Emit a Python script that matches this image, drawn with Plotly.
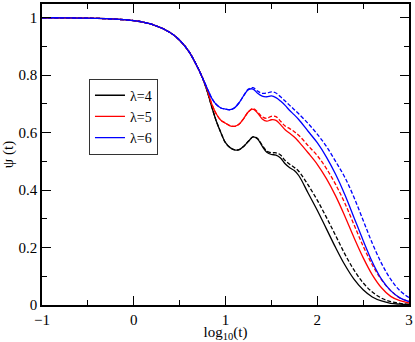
import plotly.graph_objects as go

# log10(t) grid shared by every curve
x = [-1, -0.8, -0.6, -0.4, -0.2, 0, 0.2, 0.4, 0.5, 0.6, 0.7, 0.75,
     0.8, 0.85, 0.9, 0.95, 1.0, 1.05, 1.1, 1.15, 1.2, 1.25, 1.3,
     1.35, 1.4, 1.45, 1.5, 1.55, 1.6, 1.65, 1.7, 1.75, 1.8,
     1.9, 2.0, 2.1, 2.2, 2.3, 2.4, 2.5, 2.6, 2.7, 2.8, 2.9, 3.0]

# early-time part, identical for all curves
head = [1.0, 1.0, 0.999, 0.998, 0.995, 0.99, 0.977, 0.948, 0.922, 0.883, 0.825, 0.79]

psi4 = head + [0.745, 0.69, 0.64, 0.60, 0.565, 0.548, 0.54, 0.541, 0.553, 0.57, 0.585,
               0.578, 0.553, 0.532, 0.524, 0.522, 0.512, 0.492, 0.478, 0.468, 0.45,
               0.39, 0.33, 0.265, 0.20, 0.14, 0.09, 0.053, 0.028, 0.014, 0.006, 0.003, 0.001]
psi4_d = head + [0.745, 0.69, 0.64, 0.60, 0.565, 0.548, 0.54, 0.541, 0.553, 0.57, 0.585,
                 0.58, 0.556, 0.536, 0.53, 0.53, 0.522, 0.503, 0.49, 0.479, 0.465,
                 0.418, 0.365, 0.305, 0.242, 0.178, 0.122, 0.077, 0.045, 0.024, 0.012, 0.006, 0.003]

psi5 = head + [0.75, 0.70, 0.665, 0.643, 0.633, 0.624, 0.622, 0.63, 0.65, 0.673, 0.682,
               0.668, 0.648, 0.64, 0.645, 0.643, 0.628, 0.61, 0.598, 0.585, 0.568,
               0.53, 0.49, 0.44, 0.38, 0.31, 0.235, 0.165, 0.105, 0.06, 0.03, 0.015, 0.007]
psi5_d = head + [0.75, 0.70, 0.665, 0.643, 0.633, 0.624, 0.622, 0.63, 0.65, 0.673, 0.684,
                 0.672, 0.655, 0.65, 0.657, 0.656, 0.64, 0.623, 0.614, 0.603, 0.59,
                 0.555, 0.52, 0.475, 0.42, 0.355, 0.28, 0.205, 0.14, 0.088, 0.05, 0.025, 0.012]

psi6 = head + [0.755, 0.72, 0.698, 0.686, 0.682, 0.68, 0.687, 0.705, 0.73, 0.75, 0.752,
               0.737, 0.727, 0.725, 0.728, 0.722, 0.71, 0.695, 0.677, 0.662, 0.645,
               0.605, 0.565, 0.515, 0.455, 0.385, 0.305, 0.225, 0.15, 0.09, 0.05, 0.025, 0.012]
psi6_d = head + [0.755, 0.72, 0.698, 0.686, 0.682, 0.68, 0.687, 0.705, 0.73, 0.752, 0.757,
                 0.745, 0.737, 0.738, 0.742, 0.738, 0.725, 0.71, 0.695, 0.68, 0.665,
                 0.632, 0.595, 0.552, 0.50, 0.445, 0.375, 0.295, 0.215, 0.145, 0.09, 0.05, 0.026]

x_ticks = [-1, 0, 1, 2, 3]
y_ticks = [0, 0.2, 0.4, 0.6, 0.8, 1]
y_labels = ['0', '0.2', '0.4', '0.6', '0.8', '1']

series = [('λ=4', 'black', psi4, psi4_d),
          ('λ=5', 'red', psi5, psi5_d),
          ('λ=6', 'blue', psi6, psi6_d)]

serif = 'Times New Roman, Liberation Serif, DejaVu Serif, serif'

fig = go.Figure()
for name, col, ys, yd in series:
    fig.add_trace(go.Scatter(x=x, y=yd, mode='lines', showlegend=False,
                             line=dict(color=col, width=1.3, dash='4px,2px', shape='spline')))
    fig.add_trace(go.Scatter(x=x, y=ys, mode='lines', name=name,
                             line=dict(color=col, width=1.3, shape='spline')))

axis_style = dict(showline=True, linecolor='black', linewidth=1.5, mirror='ticks',
                  ticks='inside', ticklen=9, tickcolor='black', tickwidth=1.2,
                  showgrid=False, zeroline=False,
                  tickfont=dict(family=serif, size=15, color='black'))

fig.update_xaxes(range=[-1, 3], tickvals=x_ticks, title_text='log<sub>10</sub>(t)',
                 title_font=dict(family=serif, size=15, color='black'),
                 title_standoff=2,
                 minor=dict(ticks='inside', ticklen=5, dtick=0.5, tickcolor='black'),
                 **axis_style)
fig.update_yaxes(range=[0, 1.048], tickvals=y_ticks, ticktext=y_labels, title_text='ψ (t)',
                 title_font=dict(family=serif, size=15, color='black'),
                 title_standoff=6,
                 minor=dict(ticks='inside', ticklen=5, dtick=0.1, tickcolor='black'),
                 **axis_style)

fig.update_layout(width=415, height=342,
                  margin=dict(l=42, r=3, t=2, b=37),
                  plot_bgcolor='white', paper_bgcolor='white',
                  legend=dict(x=0.128, y=0.752, xanchor='left', yanchor='top',
                              bgcolor='white', bordercolor='#333', borderwidth=1,
                              font=dict(family=serif, size=14, color='black'),
                              tracegroupgap=0, itemwidth=30))

fig.write_html('out.html', config={'displayModeBar': False},
               post_script="document.body.style.margin='0px';")
